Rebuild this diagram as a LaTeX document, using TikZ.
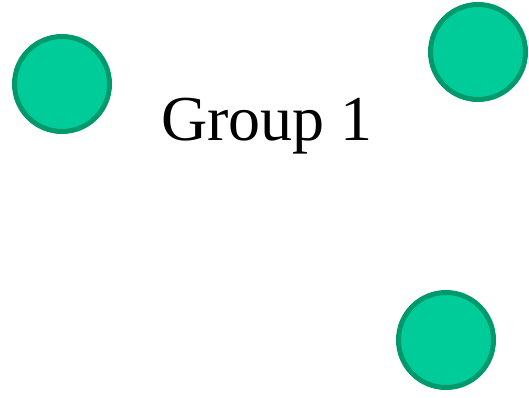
\documentclass[tikz,border=0pt]{standalone}
\usepackage{fontspec}
\setmainfont{Liberation Serif}
\usetikzlibrary{positioning}

\definecolor{memberfill}{RGB}{0,204,153}
\definecolor{memberline}{RGB}{0,153,107}

\begin{document}
\begin{tikzpicture}[
    x = 1pt,
    y = 1pt,
    ]

    \tikzstyle{member}=[
    circle,
    draw = memberline,
    line width = 5pt,
    fill = memberfill,
    minimum size = 95pt,
    inner sep = 0pt,
    ]

    \useasboundingbox (0,0) rectangle (529,397);

    \node[member] (m1) at (62,313) {};
    \node[member] (m2) at (478,345) {};
    \node[member] (m3) at (446,57) {};
    \node[anchor=base, font=\fontsize{64}{66}\selectfont, inner sep=0pt] (g1) at (267,257) {Group 1};
  \end{tikzpicture}
\end{document}
